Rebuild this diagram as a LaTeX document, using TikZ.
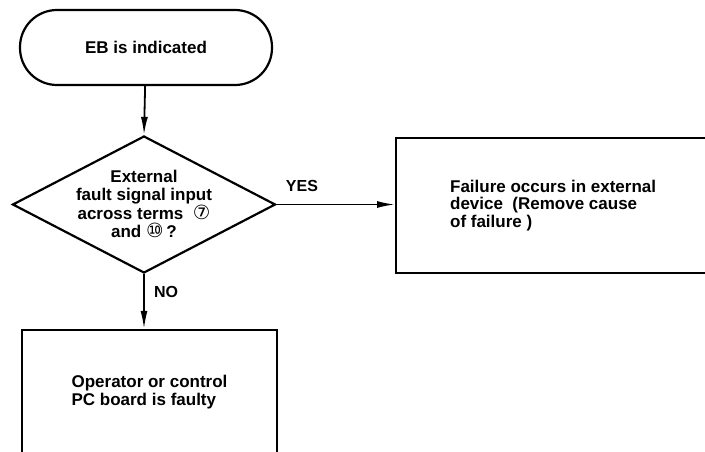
\documentclass[tikz,border=0pt]{standalone}
\usepackage{fontspec}
\newfontfamily\chartfont{Liberation Sans}
\newfontfamily\circfont[Scale=1.15]{DejaVu Sans}
\usetikzlibrary{shapes.geometric, arrows.meta, positioning}

\begin{document}
\begin{tikzpicture}[x=1pt, y=-1pt, line width=2.2pt,
    every node/.style={font=\chartfont\bfseries\fontsize{17}{17.8}\selectfont, inner sep=0pt},
    termbox/.style={draw, rectangle, rounded corners=37pt, minimum width=252pt, minimum height=75pt},
    decision/.style={draw, diamond, minimum width=263pt, minimum height=137pt},
    actionbox/.style={draw, rectangle, align=left},
    flow/.style={line width=1.8pt, -{Latex[length=18pt, width=7pt]}},
    answer/.style={font=\chartfont\bfseries\fontsize{16}{18}\selectfont}]
    \useasboundingbox (0,0) rectangle (705,452);
    \fill[white] (0,0) rectangle (705,452);
    \clip (0,0) rectangle (705,452);

    \node[termbox] (start) at (146,47.5) {EB is indicated};
    \node[decision] (check) at (144,204.5) {};
    \node[align=center] (checktext) at (144,204) {External\\fault signal input\\across terms \ {\circfont\mdseries ⑦}\\and {\circfont\mdseries ⑩}\,?};
    \node[actionbox, minimum width=314pt, minimum height=135pt, anchor=west] (external) at (395,205.5)
        {Failure occurs in external\\device \ (Remove cause\\of failure )};
    \node[actionbox, minimum width=255pt, minimum height=124pt] (board) at (149.5,392)
        {Operator or control\\PC board is faulty};

    \draw[flow] (start) -- (check.north);
    \draw[flow] (check.east) -- (external.west |- check.east);
    \draw[flow] (check.south) -- (board.north -| check.south);

    % Include labels for the answers
    \node[answer] (yes) at (302,186) {YES};
    \node[answer] (no) at (166,292) {NO};
\end{tikzpicture}
\end{document}
